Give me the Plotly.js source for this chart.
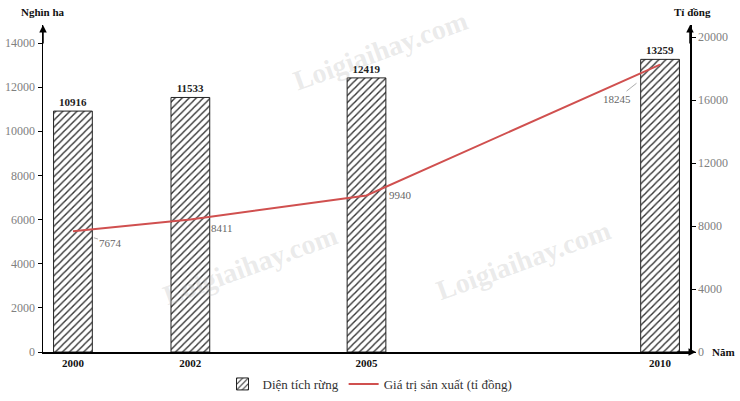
<!DOCTYPE html>
<html><head><meta charset="utf-8">
<script src="https://cdn.plot.ly/plotly-3.0.1.min.js"></script>
<style>html,body{margin:0;padding:0;background:#fff}#c{width:740px;height:401px}</style>
</head><body><div id="c"></div>
<script>
const years = [2000, 2002, 2005, 2010];
const forestArea = [10916, 11533, 12419, 13259];
const prodValue = [7674, 8411, 9940, 18245];
const yLeftTicks = [0, 2000, 4000, 6000, 8000, 10000, 12000, 14000];
const yRightTicks = [0, 4000, 8000, 12000, 16000, 20000];
const seriesNames = ['Diện tích rừng', 'Giá trị sản xuất (tỉ đồng)'];

const serif = 'Liberation Serif, Times New Roman, serif';

const bars = {
  type: 'bar', x: years, y: forestArea, name: seriesNames[0], width: 0.66,
  marker: {color: '#ffffff', line: {color: '#222', width: 1},
    pattern: {shape: '/', fgcolor: '#333', bgcolor: '#ffffff', size: 5, solidity: 0.28}},
  text: forestArea.map(String), textposition: 'outside', cliponaxis: false,
  textfont: {family: serif, size: 11, color: '#222', weight: 'bold'}
};
const line = {
  type: 'scatter', mode: 'lines', x: years, y: prodValue, yaxis: 'y2', name: seriesNames[1],
  line: {color: '#d0504f', width: 2}
};

const lblOff = [
  {arrow: true, ax: 38, ay: 12, standoff: 22},
  {arrow: false, xs: 32, ys: -8},
  {arrow: false, xs: 34, ys: 0},
  {arrow: true, ax: -43, ay: 34, standoff: 30}
];
const annotations = years.map((yr, i) => {
  const o = lblOff[i];
  const a = {x: yr, y: prodValue[i], xref: 'x', yref: 'y2', text: String(prodValue[i]),
    font: {family: serif, size: 11, color: '#666'}};
  if (o.arrow) Object.assign(a, {showarrow: true, ax: o.ax, ay: o.ay, arrowhead: 0, arrowwidth: 0.7, arrowcolor: '#888', standoff: o.standoff});
  else Object.assign(a, {showarrow: false, xshift: o.xs, yshift: o.ys});
  return a;
});
// axis titles
annotations.push({xref: 'paper', yref: 'paper', x: 0, y: 1, xanchor: 'center', yanchor: 'middle', yshift: 13, showarrow: false, text: 'Nghìn ha', font: {family: serif, size: 11, color: '#111', weight: 'bold'}});
annotations.push({xref: 'paper', yref: 'paper', x: 1, y: 1, xanchor: 'center', yanchor: 'middle', yshift: 13, xshift: 2, showarrow: false, text: 'Tỉ đồng', font: {family: serif, size: 11, color: '#111', weight: 'bold'}});
annotations.push({xref: 'paper', yref: 'paper', x: 1.0, y: 0, xanchor: 'left', yanchor: 'middle', xshift: 20, showarrow: false, text: 'Năm', font: {family: serif, size: 11, color: '#111', weight: 'bold'}});
// axis arrows
annotations.push({xref: 'paper', yref: 'paper', x: 0, y: 1.0, ax: 0, ay: 20, showarrow: true, arrowhead: 2, arrowsize: 1, arrowwidth: 1.5, arrowcolor: '#000', text: ''});
annotations.push({xref: 'paper', yref: 'paper', x: 1, y: 1.0, ax: 0, ay: 20, showarrow: true, arrowhead: 2, arrowsize: 1, arrowwidth: 1.5, arrowcolor: '#000', text: ''});
annotations.push({xref: 'paper', yref: 'paper', x: 1.0, y: 0, ax: -20, ay: 0, xshift: 6, showarrow: true, arrowhead: 2, arrowsize: 1, arrowwidth: 1.5, arrowcolor: '#000', text: ''});
// watermarks
[[0.522, 0.922], [0.32, 0.263], [0.742, 0.281]].forEach(p => annotations.push({
  xref: 'paper', yref: 'paper', x: p[0], y: p[1], xanchor: 'center', yanchor: 'middle', showarrow: false,
  text: 'Loigiaihay.com', textangle: -20,
  font: {family: serif, size: 28, color: 'rgba(185,185,185,0.3)', weight: 'bold'}}));

const layout = {
  width: 740, height: 401,
  margin: {l: 43, r: 50, t: 25, b: 49},
  paper_bgcolor: '#fff', plot_bgcolor: '#fff',
  showlegend: true,
  legend: {orientation: 'h', xref: 'container', yref: 'container', x: 0.5, xanchor: 'center', y: 0.005, yanchor: 'bottom',
    font: {family: serif, size: 13, color: '#333'}, itemwidth: 30, tracegroupgap: 0},
  xaxis: {range: [1999.49, 2010.51], tickvals: years, ticktext: years.map(String), showgrid: false, zeroline: false,
    showline: true, linecolor: '#000', linewidth: 1.5, ticks: '', automargin: false,
    tickfont: {family: serif, size: 11, color: '#111', weight: 'bold'}},
  yaxis: {range: [0, 14816], tickvals: yLeftTicks, ticktext: yLeftTicks.map(String), showgrid: false, zeroline: false,
    showline: true, linecolor: '#000', linewidth: 1.5, ticks: 'outside', ticklen: 4, tickcolor: '#000', automargin: false,
    tickfont: {family: serif, size: 12, color: '#808080'}},
  yaxis2: {range: [0, 20762], tickvals: yRightTicks, ticktext: yRightTicks.map(String), overlaying: 'y', side: 'right', showgrid: false, zeroline: false,
    showline: true, linecolor: '#000', linewidth: 1.5, ticks: 'outside', ticklen: 4, tickcolor: '#000', automargin: false,
    tickfont: {family: serif, size: 12, color: '#808080'}},
  annotations: annotations
};
Plotly.newPlot('c', [bars, line], layout, {displayModeBar: false, staticPlot: true});
</script></body></html>
